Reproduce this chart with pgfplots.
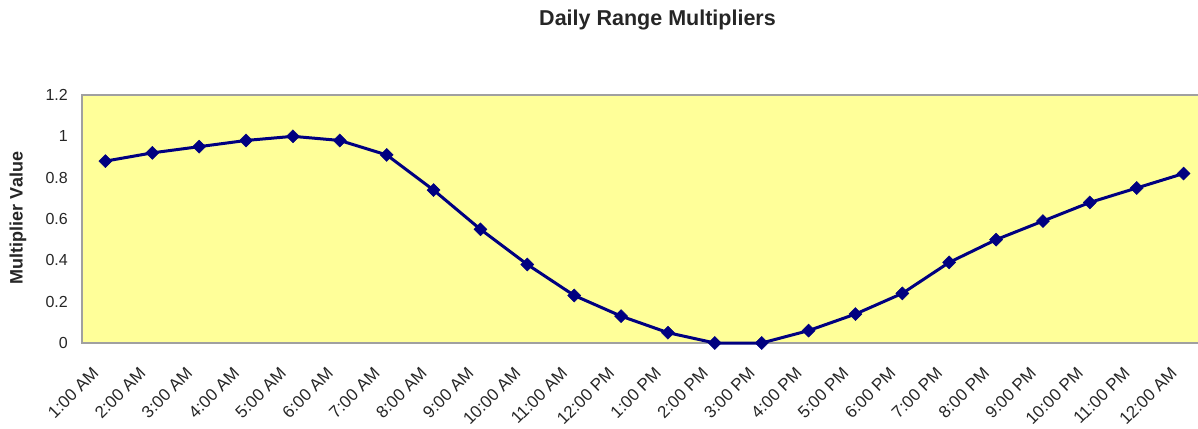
\documentclass[border=0pt]{standalone}
\usepackage{pgfplots}
\pgfplotsset{compat=1.18}
\usepackage{fontspec}
\setmainfont{Liberation Sans}
\definecolor{plotbg}{HTML}{FFFF99}
\definecolor{linecol}{HTML}{000080}
\definecolor{framecol}{HTML}{A0A0A0}
\begin{document}
\begin{tikzpicture}[x=1pt,y=1pt]
\path[use as bounding box] (-82,-85) rectangle (1116,343);
\begin{axis}[
  at={(0,0)}, anchor=south west,
  scale only axis,
  width=1125pt, height=248pt,
  xmin=0.5, xmax=24.5,
  ymin=0, ymax=1.2,
  axis background/.style={fill=plotbg},
  axis line style={draw=framecol, line width=1.2pt},
  major tick length=0pt,
  xtick={1,...,24},
  xticklabels={1:00 AM,2:00 AM,3:00 AM,4:00 AM,5:00 AM,6:00 AM,7:00 AM,8:00 AM,9:00 AM,10:00 AM,11:00 AM,12:00 PM,1:00 PM,2:00 PM,3:00 PM,4:00 PM,5:00 PM,6:00 PM,7:00 PM,8:00 PM,9:00 PM,10:00 PM,11:00 PM,12:00 AM},
  xticklabel style={font=\fontsize{17}{19}\selectfont, text=black!85, rotate=45, anchor=north east, inner sep=0pt, xshift=-26pt, yshift=-6pt},
  ytick={0,0.2,0.4,0.6,0.8,1,1.2},
  yticklabels={0,0.2,0.4,0.6,0.8,1,1.2},
  yticklabel style={font=\fontsize{16}{19}\selectfont, text=black!85, anchor=east, inner sep=0pt, xshift=-14pt},
  /pgf/number format/assume math mode=true,
  clip=false,
]
\addplot[color=linecol, line width=3pt, mark=square*, mark size=4.6pt, mark options={fill=linecol, draw=linecol, line width=0.5pt, rotate=45}]
coordinates {
(1,0.88) (2,0.92) (3,0.95) (4,0.98) (5,1.00) (6,0.98) (7,0.91) (8,0.74)
(9,0.55) (10,0.38) (11,0.23) (12,0.13) (13,0.05) (14,0.00) (15,0.00) (16,0.06)
(17,0.14) (18,0.24) (19,0.39) (20,0.50) (21,0.59) (22,0.68) (23,0.75) (24,0.82)
};
\end{axis}
\node[font=\bfseries\fontsize{21.5}{24}\selectfont, text=black!85] at (575.5,323) {Daily Range Multipliers};
\node[font=\bfseries\fontsize{18}{21}\selectfont, text=black!85, rotate=90] at (-64,125) {Multiplier Value};
\end{tikzpicture}
\end{document}
